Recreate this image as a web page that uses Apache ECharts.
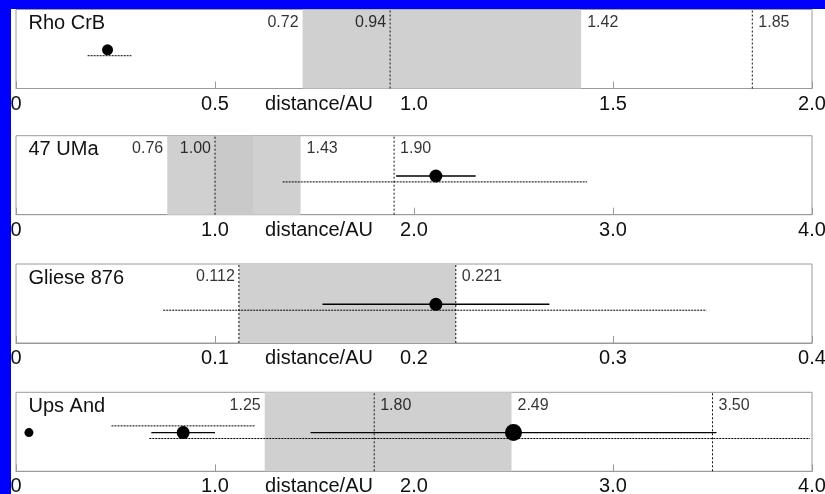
<!DOCTYPE html>
<html>
<head>
<meta charset="utf-8">
<script src="https://cdn.jsdelivr.net/npm/echarts@6/dist/echarts.min.js"></script>
<style>
  html, body { margin: 0; padding: 0; width: 825px; height: 494px; overflow: hidden; background: #0000ff; }
  #chart { position: absolute; left: 11px; top: 9px; width: 814px; height: 485px; background: #ffffff; }
</style>
</head>
<body>
<div id="chart"></div>
<script>
// One panel per planetary system, distances in AU
const systems = ['Rho CrB', '47 UMa', 'Gliese 876', 'Ups And'];
const axisMax = [2.0, 4.0, 0.4, 4.0];
const tickStep = [0.5, 1.0, 0.1, 1.0];
const tickLabels = [
  ['0', '0.5', '1.0', '1.5', '2.0'],
  ['0', '1.0', '2.0', '3.0', '4.0'],
  ['0', '0.1', '0.2', '0.3', '0.4'],
  ['0', '1.0', '2.0', '3.0', '4.0']
];

// Shaded zone edges
const zoneInner = [0.72, 0.76, 0.112, 1.25];
const zoneOuter = [1.42, 1.43, 0.221, 2.49];
// Slightly denser core of the 47 UMa zone
const coreInner = [null, 1.00, null, null];
const coreOuter = [null, 1.19, null, null];
// Dotted vertical markers
const markers = [[0.94, 1.85], [1.00, 1.90], [0.112, 0.221], [1.80, 3.50]];
const markerLabelled = [[true, true], [true, true], [false, false], [true, true]];

// Planets: system index, mean distance, solid range, dotted range
const planetSystem = [0, 1, 2, 3, 3, 3];
const planetDist   = [0.23, 2.11, 0.211, 0.065, 0.84, 2.50];
const solidLow     = [null, 1.91, 0.154, null, 0.68, 1.48];
const solidHigh    = [null, 2.31, 0.268, null, 1.00, 3.52];
const dottedLow    = [0.18, 1.34, 0.074, null, 0.48, 0.67];
const dottedHigh   = [0.29, 2.87, 0.347, null, 1.20, 3.99];

// ---- layout & styling ----
const FONT = 'Liberation Sans, Arial, sans-serif';
const gridTop = [0.5, 126.7, 255, 383.3];
const gridH = 79;
const rowDot = 0.49, rowBelow = 0.415, rowAbove = 0.575, rowLabel = 0.835;
const dotSize = [11, 13, 13, 9, 13, 17];
const dottedAbove = [false, false, false, false, true, false];
const markerSide = [['left', 'right'], ['left', 'right'], [null, null], ['right', 'right']];

const decimals = i => (axisMax[i] < 1 ? 3 : 2);

const grid = [], xAxis = [], yAxis = [], series = [], title = [], graphic = [];

systems.forEach((name, i) => {
  grid.push({
    left: 5, right: 13, top: gridTop[i], height: gridH,
    containLabel: false, outerBoundsMode: 'none',
    show: true, borderColor: '#9a9a9a', borderWidth: 1, backgroundColor: '#fff'
  });
  xAxis.push({
    gridIndex: i, type: 'value', min: 0, max: axisMax[i], interval: tickStep[i],
    axisLine: { show: true, lineStyle: { color: '#9a9a9a' } },
    axisTick: { show: true, inside: true, length: 7, lineStyle: { color: '#9a9a9a' } },
    splitLine: { show: false },
    axisLabel: {
      fontSize: 20, fontFamily: FONT, color: '#111', margin: 5.5,
      showMinLabel: true, showMaxLabel: true, hideOverlap: false,
      formatter: v => tickLabels[i][Math.round(v / tickStep[i])]
    }
  });
  yAxis.push({ gridIndex: i, type: 'value', min: 0, max: 1, show: false });

  title.push({
    text: name, left: 17.5, top: gridTop[i] + 4, padding: 0,
    textStyle: { fontSize: 20, fontWeight: 'normal', color: '#111', fontFamily: FONT }
  });

  graphic.push({
    type: 'text', x: 308, y: gridTop[i] + gridH + 15.5,
    style: { text: 'distance/AU', fill: '#111', font: '20px ' + FONT, align: 'center', verticalAlign: 'middle' }
  });

  // shaded zone
  const areas = [[{ xAxis: zoneInner[i], itemStyle: { color: '#d0d0d0' } }, { xAxis: zoneOuter[i] }]];
  if (coreInner[i] !== null) {
    areas.push([{ xAxis: coreInner[i], itemStyle: { color: '#c9c9c9' } }, { xAxis: coreOuter[i] }]);
  }
  series.push({
    type: 'scatter', xAxisIndex: i, yAxisIndex: i, data: [], silent: true, z: 1,
    markArea: { silent: true, data: areas }
  });

  // dotted vertical markers spanning the panel
  markers[i].forEach(x => {
    series.push({
      type: 'line', xAxisIndex: i, yAxisIndex: i, showSymbol: false, silent: true, z: 2,
      lineStyle: { color: '#111', type: [2, 2], width: 1 },
      data: [[x, 0], [x, 1]]
    });
  });

  // value labels beside the zone edges and markers
  const labels = [
    { x: zoneInner[i], side: 'left' },
    { x: zoneOuter[i], side: 'right' }
  ];
  markers[i].forEach((x, k) => {
    if (markerLabelled[i][k]) labels.push({ x, side: markerSide[i][k] });
  });
  series.push({
    type: 'scatter', xAxisIndex: i, yAxisIndex: i, symbolSize: 0, silent: true, z: 3,
    data: labels.map(l => ({
      value: [l.x, rowLabel],
      label: {
        show: true, position: l.side, distance: l.side === 'left' ? 4 : 6,
        formatter: l.x.toFixed(decimals(i)),
        fontSize: 16, fontFamily: FONT, color: '#000'
      }
    }))
  });
});

// planets: error ranges and dots
planetDist.forEach((d, p) => {
  const g = planetSystem[p];
  if (dottedLow[p] !== null) {
    const y = dottedAbove[p] ? rowAbove : rowBelow;
    series.push({
      type: 'line', xAxisIndex: g, yAxisIndex: g, showSymbol: false, silent: true, z: 4,
      lineStyle: { color: '#000', width: 1, type: [2, 1] },
      data: [[dottedLow[p], y], [dottedHigh[p], y]]
    });
  }
  if (solidLow[p] !== null) {
    series.push({
      type: 'line', xAxisIndex: g, yAxisIndex: g, showSymbol: false, silent: true, z: 4,
      lineStyle: { color: '#000', width: 1.4 },
      data: [[solidLow[p], rowDot], [solidHigh[p], rowDot]]
    });
  }
  series.push({
    type: 'scatter', xAxisIndex: g, yAxisIndex: g, silent: true, z: 5,
    symbol: 'circle', symbolSize: dotSize[p],
    itemStyle: { color: '#000', opacity: 1 },
    data: [[d, rowDot]]
  });
});

const chart = echarts.init(document.getElementById('chart'), null, { renderer: 'canvas' });
chart.setOption({
  animation: false,
  backgroundColor: '#fff',
  textStyle: { fontFamily: FONT },
  title, grid, xAxis, yAxis, series, graphic
});
</script>
</body>
</html>
